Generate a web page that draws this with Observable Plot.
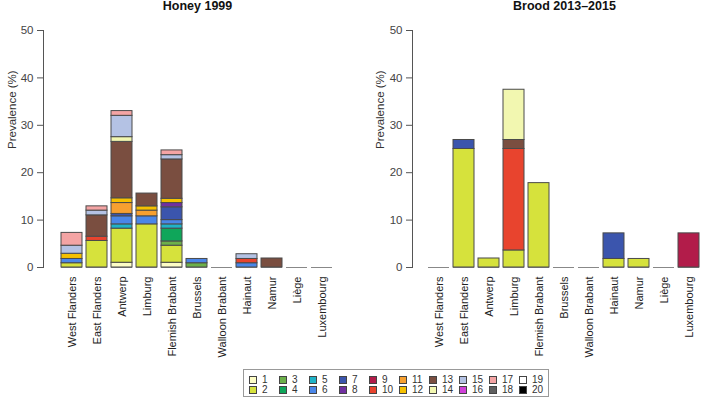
<!DOCTYPE html>
<html><head><meta charset="utf-8">
<script src="https://cdn.jsdelivr.net/npm/d3@7"></script>
<script src="https://cdn.jsdelivr.net/npm/@observablehq/plot@0.6"></script>
<style>
body{margin:0;background:#fff;font-family:"Liberation Sans",Arial,sans-serif;}
#wrap{position:relative;width:709px;height:400px;overflow:hidden;}
#left{position:absolute;left:0;top:0;}
#right{position:absolute;left:354px;top:0;}
#legend{position:absolute;left:243px;top:369px;width:306px;height:28px;border:1px solid #999;box-sizing:border-box;display:grid;grid-template-columns:repeat(10,30px);grid-template-rows:10px 10px;grid-auto-flow:column;padding:5px 0 0 5px;}
.item{display:flex;align-items:center;font-size:10px;color:#333;line-height:10px;}
.sw{width:6px;height:6px;border:1px solid #444;margin-right:5px;flex:none;}
</style>
</head><body>
<div id="wrap"><div id="left"></div><div id="right"></div><div id="legend"></div></div>
<script>
const regions = ["West Flanders","East Flanders","Antwerp","Limburg","Flemish Brabant","Brussels","Walloon Brabant","Hainaut","Namur","Liège","Luxembourg"];
const typeLabels = ["1","2","3","4","5","6","7","8","9","10","11","12","13","14","15","16","17","18","19","20"];
const typeColors = ["#fdfdc6","#d6e23c","#6cb04a","#0fa65a","#1fb3c8","#4a86e8","#3b55ad","#7030a0","#b21c4a","#e8442e","#f7a030","#f5c000","#7a4e40","#f2f7b0","#b4c2e4","#d040d8","#f4a4a4","#5f5f5f","#ffffff","#000000"];
const yTicks = [0,10,20,30,40,50];

// Honey 1999: prevalence (%) per type, per region (order as regions)
const honey1  = [0,0,1.0,0,1.0,0,0,0,0,0,0];
const honey2  = [0.9,5.6,7.2,9.1,3.6,0,0,0,0,0,0];
const honey3  = [0,0,0,0,0.9,0.9,0,0,0,0,0];
const honey4  = [0,0,0,0,2.7,0,0,0,0,0,0];
const honey5  = [0,0,0.9,0,0.9,0,0,0,0,0,0];
const honey6  = [0.9,0,1.7,1.7,0.9,0.9,0,0.9,0,0,0];
const honey7  = [0,0,0.5,0,2.7,0,0,0,0,0,0];
const honey8  = [0,0,0,0,0.9,0,0,0,0,0,0];
const honey10 = [0,0.9,0,0,0,0,0,0.9,0,0,0];
const honey11 = [0,0,2.3,1.2,0,0,0,0,0,0,0];
const honey12 = [1.1,0,1.0,0.9,0.9,0,0,0,0,0,0];
const honey13 = [0,4.5,11.9,2.7,8.3,0,0,0,1.9,0,0];
const honey14 = [0,0,1.0,0,0,0,0,0,0,0,0];
const honey15 = [1.7,1.0,4.5,0,0.9,0,0,1.0,0,0,0];
const honey17 = [2.7,0.9,1.0,0,1.0,0,0,0,0,0,0];

// Brood 2013–2015
const brood2  = [0,25.0,1.9,3.6,17.8,0,0,1.8,1.8,0,0];
const brood7  = [0,1.9,0,0,0,0,0,5.4,0,0,0];
const brood9  = [0,0,0,0,0,0,0,0,0,0,7.2];
const brood10 = [0,0,0,21.4,0,0,0,0,0,0,0];
const brood13 = [0,0,0,1.9,0,0,0,0,0,0,0];
const brood14 = [0,0,0,10.6,0,0,0,0,0,0,0];

function rowsFrom(series) {
  const rows = [];
  for (const [type, vals] of series) {
    vals.forEach((v, i) => { if (v > 0) rows.push({region: regions[i], type: String(type), value: v}); });
  }
  return rows;
}
const honeyRows = rowsFrom([[1,honey1],[2,honey2],[3,honey3],[4,honey4],[5,honey5],[6,honey6],[7,honey7],[8,honey8],[10,honey10],[11,honey11],[12,honey12],[13,honey13],[14,honey14],[15,honey15],[17,honey17]]);
const broodRows = rowsFrom([[2,brood2],[7,brood7],[9,brood9],[10,brood10],[13,brood13],[14,brood14]]);
const zeroRows = regions.map(r => ({region: r, v: 0}));

function panel(rows, title, opt) {
  return Plot.plot({
    width: opt.w, height: 365,
    marginTop: 30, marginBottom: 98, marginLeft: opt.ml, marginRight: opt.mr,
    style: {fontFamily: "'Liberation Sans', Arial, sans-serif", fontSize: "11px", color: "#333", background: "#fff", overflow: "visible"},
    x: {domain: regions, padding: 0.154, label: null},
    y: {domain: [0, 50], label: null},
    color: {domain: typeLabels, range: typeColors},
    marks: [
      Plot.tickY(zeroRows, {x: "region", y: "v", stroke: "#888", strokeWidth: 1}),
      Plot.barY(rows, {x: "region", y: "value", fill: "type", stroke: "#4a4a4a", strokeWidth: 1}),
      Plot.frame({anchor: "left", dx: opt.adx, stroke: "#555"}),
      Plot.axisY({ticks: yTicks, tickSize: 6, tickPadding: 4, dx: opt.adx, label: null, stroke: "#555", fill: "#444", fontSize: 11.5}),
      Plot.axisX({tickSize: 0, tickPadding: 9, tickRotate: -90, label: null, fontSize: 11, fill: "#222"}),
      Plot.text([title], {text: d => d, frameAnchor: "top", lineAnchor: "middle", dy: -25, fontWeight: "bold", fontSize: 12.5, fill: "#111"}),
      Plot.text(["Prevalence (%)"], {text: d => d, frameAnchor: "left", dx: opt.ldx, rotate: -90, fontSize: 11.5, fill: "#333"})
    ]
  });
}

document.getElementById("left").append(panel(honeyRows, "Honey 1999", {w: 354, ml: 52, mr: 12, adx: -9, ldx: -40}));
document.getElementById("right").append(panel(broodRows, "Brood 2013\u20132015", {w: 355, ml: 65, mr: 0, adx: -7, ldx: -39}));

const leg = document.getElementById("legend");
typeLabels.forEach((t, i) => {
  const it = document.createElement("div");
  it.className = "item";
  const sw = document.createElement("span");
  sw.className = "sw";
  sw.style.background = typeColors[i];
  it.append(sw, document.createTextNode(t));
  leg.append(it);
});
</script>
</body></html>
